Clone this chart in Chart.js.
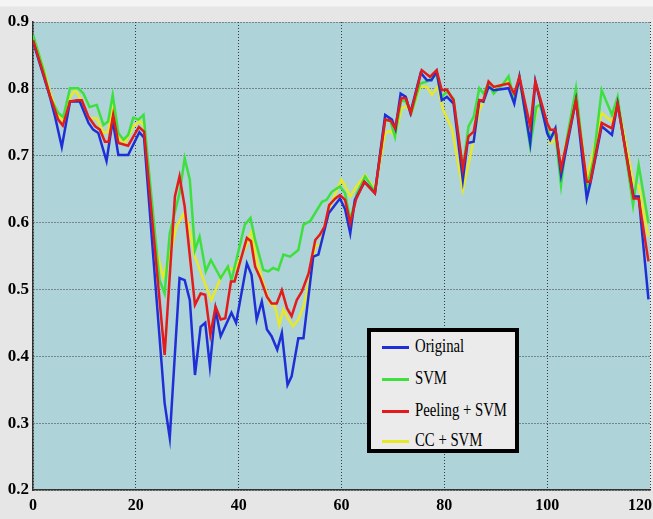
<!DOCTYPE html>
<html>
<head>
<meta charset="utf-8">
<script src="https://cdn.jsdelivr.net/npm/chart.js@4"></script>
<style>
  html, body { margin: 0; padding: 0; }
  body { width: 653px; height: 519px; overflow: hidden; background: linear-gradient(#f4f4f4 0, #f4f4f4 6px, #e6e6e6 7px); position: relative; }
  #chart { position: absolute; left: 0; top: 0; }
  #legend { position: absolute; left: 367px; top: 328px; width: 144px; height: 117px; border: 4px solid #000; background: #ebebeb; }
  #legend .row { position: absolute; left: 0; height: 20px; }
  #legend .swatch { position: absolute; left: 11px; top: 9px; width: 27px; height: 3px; }
  #legend .txt { position: absolute; left: 44px; top: -1px; white-space: nowrap; font: 18px "Liberation Serif", serif; color: #000; transform: scaleX(0.82); transform-origin: 0 50%; }
</style>
</head>
<body>
<canvas id="chart" width="653" height="519"></canvas>
<div id="legend"></div>
<script>
const seriesNames = ["Original", "SVM", "Peeling + SVM", "CC + SVM"];
const seriesColors = ["#1f2fd8", "#3ee03e", "#e31b1b", "#e8e82a"];

const original = [[0,0.871],[2,0.821],[3.3,0.788],[4.3,0.758],[5.6,0.713],[7.2,0.781],[9.1,0.781],[10.8,0.749],[11.7,0.739],[12.7,0.734],[14.3,0.692],[15.5,0.753],[16.6,0.701],[18.5,0.701],[20.7,0.735],[21.6,0.727],[25,0.39],[25.6,0.33],[26.6,0.278],[28.5,0.517],[29.5,0.514],[30.5,0.484],[31.5,0.372],[32.6,0.444],[33.5,0.45],[34.4,0.385],[35.5,0.47],[36.5,0.43],[38.6,0.465],[39.5,0.45],[41.6,0.539],[42.5,0.522],[43.5,0.455],[44.5,0.482],[45.5,0.44],[46.4,0.43],[47.5,0.41],[48.4,0.435],[49.5,0.357],[50.3,0.37],[51.6,0.427],[52.6,0.427],[54.5,0.549],[55.5,0.552],[57.5,0.614],[59.7,0.636],[60.7,0.62],[61.7,0.584],[62.6,0.634],[64.5,0.661],[66.5,0.644],[68.5,0.761],[69.8,0.754],[70.5,0.74],[71.5,0.793],[72.5,0.788],[73.4,0.764],[75.4,0.824],[76.6,0.813],[77.5,0.813],[78.5,0.826],[79.5,0.783],[80.5,0.788],[81.8,0.778],[83.6,0.664],[84.5,0.719],[85.7,0.721],[86.8,0.783],[87.6,0.781],[88.6,0.803],[89.6,0.798],[92.5,0.801],[93.6,0.778],[94.6,0.818],[96.7,0.719],[97.7,0.811],[98.6,0.783],[100,0.734],[100.6,0.724],[101.6,0.741],[102.7,0.671],[105.6,0.783],[107.7,0.636],[108.4,0.659],[110.6,0.744],[112.6,0.731],[113.7,0.778],[116.8,0.639],[117.8,0.639],[119.7,0.485]];

const svm = [[0,0.881],[2,0.83],[3.3,0.788],[4.9,0.764],[5.9,0.758],[7.2,0.801],[8.8,0.801],[9.8,0.793],[11,0.773],[12.4,0.776],[13.7,0.746],[14.6,0.751],[15.5,0.791],[16.6,0.734],[17.6,0.724],[18.5,0.731],[19.5,0.757],[20.5,0.754],[21.5,0.761],[24.6,0.514],[25.6,0.494],[26.6,0.584],[28.5,0.644],[29.5,0.696],[30.5,0.664],[31.5,0.559],[32.4,0.579],[33.6,0.527],[34.6,0.544],[36.5,0.517],[37.9,0.534],[38.6,0.514],[41.2,0.597],[42.3,0.607],[43.2,0.574],[44.8,0.529],[45.8,0.527],[46.7,0.532],[47.7,0.529],[48.7,0.552],[50,0.549],[51.6,0.559],[52.6,0.597],[53.9,0.602],[56.2,0.631],[57.1,0.634],[58.1,0.646],[59.7,0.654],[60.7,0.644],[61.7,0.604],[63,0.644],[64.6,0.669],[66.5,0.646],[68.5,0.754],[69.5,0.752],[70.4,0.728],[71.6,0.783],[72.5,0.781],[73.6,0.764],[75.3,0.808],[76.6,0.811],[78.5,0.821],[79.5,0.788],[80.5,0.796],[81.8,0.785],[83.6,0.679],[84.7,0.744],[85.7,0.758],[86.8,0.801],[87.6,0.793],[88.6,0.808],[89.6,0.793],[91.5,0.808],[92.5,0.819],[93.6,0.783],[94.6,0.818],[96.7,0.714],[97.9,0.773],[98.6,0.776],[100,0.739],[100.6,0.729],[101.6,0.733],[102.7,0.656],[103.8,0.724],[105.6,0.801],[107.7,0.651],[109,0.694],[110.6,0.798],[112.6,0.761],[113.7,0.788],[116.7,0.626],[117.8,0.686],[119.7,0.599]];

const peelingSvm = [[0,0.873],[2,0.823],[3.3,0.79],[4.9,0.754],[5.8,0.745],[7.2,0.781],[8.5,0.783],[9.5,0.783],[10.8,0.758],[12.1,0.744],[13,0.739],[14,0.721],[14.7,0.721],[15.6,0.761],[16.6,0.719],[18.5,0.715],[20.6,0.743],[21.6,0.736],[25.6,0.402],[27.6,0.639],[28.5,0.669],[29.5,0.624],[31.5,0.477],[32.6,0.494],[33.5,0.492],[34.5,0.432],[35.5,0.474],[36.5,0.455],[37.4,0.457],[38.5,0.512],[39.2,0.512],[41.6,0.577],[42.4,0.572],[43.2,0.534],[44.2,0.517],[45.5,0.489],[46.4,0.479],[47.4,0.479],[48.4,0.499],[49.4,0.472],[50.3,0.46],[51.3,0.484],[52.3,0.497],[53.6,0.524],[54.9,0.574],[55.8,0.582],[56.7,0.594],[57.6,0.626],[58.8,0.636],[59.7,0.641],[60.7,0.634],[61.7,0.599],[62.8,0.634],[64.4,0.661],[66.5,0.644],[68.5,0.754],[69.6,0.752],[70.4,0.741],[71.6,0.786],[72.5,0.786],[73.5,0.764],[75.6,0.828],[77.2,0.818],[78.5,0.828],[79.5,0.798],[80.5,0.799],[81.8,0.783],[83.6,0.681],[84.7,0.729],[85.7,0.736],[86.8,0.783],[87.6,0.783],[88.6,0.811],[89.6,0.803],[92.5,0.808],[93.6,0.793],[94.6,0.818],[96.7,0.744],[97.7,0.811],[100,0.749],[100.6,0.739],[101.6,0.739],[102.7,0.681],[105.6,0.783],[107.7,0.661],[108.4,0.661],[110.6,0.749],[112.6,0.741],[113.7,0.778],[116.8,0.636],[117.8,0.636],[119.7,0.542]];

const ccSvm = [[0,0.878],[2,0.833],[3.3,0.795],[4.9,0.761],[5.9,0.752],[7.2,0.788],[8.2,0.798],[9.5,0.783],[10.8,0.756],[12.4,0.756],[13.7,0.734],[14.6,0.736],[15.5,0.771],[16.6,0.726],[17.9,0.719],[19.5,0.744],[20.8,0.752],[21.6,0.744],[23.7,0.569],[25.3,0.519],[26.6,0.549],[27.9,0.594],[29.2,0.612],[30.2,0.599],[31.5,0.549],[32.7,0.524],[34.7,0.484],[36.6,0.519],[37.9,0.532],[39.2,0.529],[41.6,0.567],[42.5,0.587],[43.5,0.544],[44.8,0.509],[46.1,0.479],[47.1,0.474],[47.9,0.447],[48.7,0.47],[49.7,0.455],[50.6,0.445],[51.6,0.455],[52.6,0.474],[53.9,0.519],[54.9,0.567],[55.8,0.565],[56.7,0.592],[57.8,0.624],[59.1,0.649],[60,0.664],[60.7,0.655],[61.7,0.639],[63,0.655],[64.6,0.671],[66.5,0.649],[68.5,0.734],[69.5,0.737],[70.4,0.729],[71.7,0.771],[72.6,0.774],[73.6,0.764],[75.3,0.803],[76.6,0.803],[77.6,0.791],[78.7,0.803],[79.8,0.768],[81.5,0.74],[83.6,0.649],[85.3,0.709],[86.8,0.768],[87.6,0.781],[88.6,0.806],[89.6,0.801],[92.5,0.811],[93.6,0.788],[94.6,0.813],[96.7,0.729],[97.9,0.766],[98.6,0.783],[100,0.741],[100.6,0.719],[101.6,0.724],[102.7,0.679],[105.6,0.793],[107.7,0.664],[110.6,0.764],[112.6,0.751],[113.7,0.783],[116.8,0.659],[117.8,0.655],[119.7,0.579]];

const xTicks = [0, 20, 40, 60, 80, 100, 120];
const yTicks = [0.2, 0.3, 0.4, 0.5, 0.6, 0.7, 0.8, 0.9];

const allSeries = [original, svm, peelingSvm, ccSvm];
// which line lands on top: red over blue over green over yellow
const drawOrder = [1, 2, 0, 3];

const serif = "'Liberation Serif', serif";

// light blue plot background
const plotBg = {
  id: "plotBg",
  beforeDraw(chart) {
    const { ctx, chartArea: a } = chart;
    ctx.save();
    ctx.fillStyle = "#aed3d8";
    ctx.fillRect(a.left, a.top, a.right - a.left, a.bottom - a.top);
    ctx.restore();
  },
};

new Chart(document.getElementById("chart"), {
  type: "line",
  data: {
    datasets: allSeries.map((d, i) => ({
      label: seriesNames[i],
      data: d,
      borderColor: seriesColors[i],
      borderWidth: 2.5,
      pointRadius: 0,
      tension: 0,
      fill: false,
      order: drawOrder[i],
    })),
  },
  options: {
    responsive: false,
    animation: false,
    devicePixelRatio: 1,
    layout: { padding: { top: 22, right: 3, left: 0, bottom: 0 } },
    plugins: { legend: { display: false }, tooltip: { enabled: false } },
    scales: {
      x: {
        type: "linear",
        min: 0,
        max: 120,
        afterBuildTicks: (s) => { s.ticks = xTicks.map((v) => ({ value: v })); },
        afterFit: (s) => { s.height = 29; s.paddingRight = 0; s.paddingLeft = 0; },
        ticks: {
          color: "#000",
          font: { family: serif, size: 16, weight: "bold" },
          padding: 6,
          maxRotation: 0,
          autoSkip: false,
          // last label sits against the window edge, pushed left to stay visible
          callback: (v) => (v === 120 ? "120\u00a0\u00a0\u00a0\u00a0\u00a0" : String(v)),
        },
        grid: { color: "#3a3a3a", lineWidth: 1, drawTicks: false },
        border: { display: true, color: "#333", width: 1.5, dash: [1, 2] },
      },
      y: {
        min: 0.2,
        max: 0.9,
        afterBuildTicks: (s) => { s.ticks = yTicks.map((v) => ({ value: v })); },
        afterFit: (s) => { s.width = 33; },
        ticks: {
          color: "#000",
          font: { family: serif, size: 17, weight: "bold" },
          padding: 4,
          callback: (v) => Number(v).toFixed(1),
        },
        grid: { color: "#3a3a3a", lineWidth: 1, drawTicks: false },
        border: { display: true, color: "#333", width: 1.5, dash: [1, 2] },
      },
    },
  },
  plugins: [plotBg],
});

// legend box inside the plot, bottom right
const legend = document.getElementById("legend");
const rowTops = [5, 37, 69, 99];
seriesNames.forEach((name, i) => {
  const row = document.createElement("div");
  row.className = "row";
  row.style.top = rowTops[i] + "px";
  row.innerHTML = '<div class="swatch" style="background:' + seriesColors[i] + '"></div><div class="txt">' + name + "</div>";
  legend.appendChild(row);
});
</script>
</body>
</html>
